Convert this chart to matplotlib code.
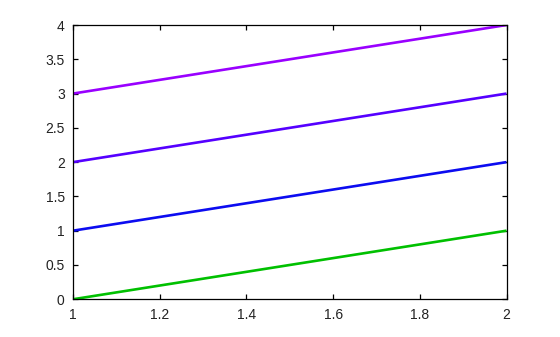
import numpy as np
from matplotlib import pyplot as plt

plt.rcParams['font.family'] = ['Liberation Sans', 'DejaVu Sans']

x = [1, 2]
series = [
    [0, 1],
    [1, 2],
    [2, 3],
    [3, 4],
]
colores = ['#00c000', '#0c0cf0', '#5500ff', '#9900ff']

fig = plt.figure(figsize=(5.6, 3.37), dpi=100)
ax = fig.add_axes([0.1304, 0.112, 0.7741, 0.8138])

for y, c in zip(series, colores):
    ax.plot(x, y, color=c, linewidth=1.9, solid_capstyle='butt')

ax.set_xlim(1, 2)
ax.set_ylim(0, 4)
ax.set_xticks(np.arange(1, 2.01, 0.2))
ax.set_xticklabels(['1', '1.2', '1.4', '1.6', '1.8', '2'])
ax.set_yticks(np.arange(0, 4.01, 0.5))
ax.set_yticklabels(['0', '0.5', '1', '1.5', '2', '2.5', '3', '3.5', '4'])
ax.tick_params(direction='in', length=3.5, width=0.9, top=True, right=True,
               labelsize=10, labelcolor='#222222', pad=6)
for sp in ax.spines.values():
    sp.set_linewidth(0.9)

fig.savefig('out.png', dpi=100)
